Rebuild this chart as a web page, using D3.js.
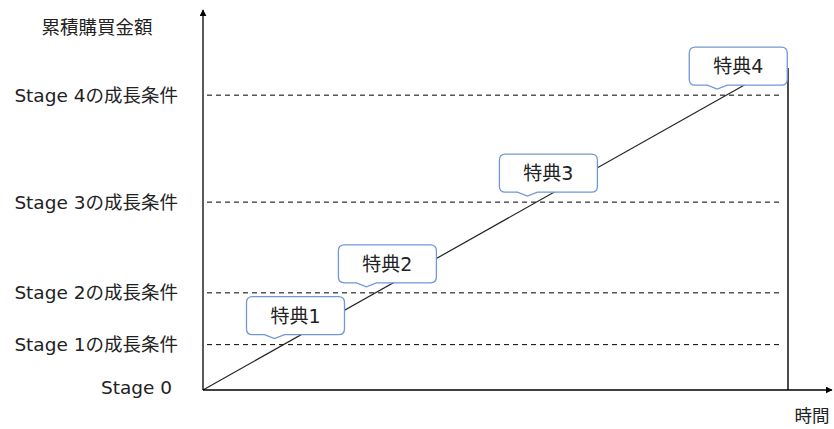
<!DOCTYPE html>
<html><head><meta charset="utf-8">
<script src="https://cdn.jsdelivr.net/npm/d3@7"></script>
<style>
html,body{margin:0;padding:0;background:#fff;}
svg{display:block;font-family:"DejaVu Sans","Noto Sans CJK JP",sans-serif;}
</style></head>
<body>
<svg id="chart" width="834" height="429"></svg>
<script>
// ---- data ----
const stageLabels = ["Stage 0", "Stage 1の成長条件", "Stage 2の成長条件", "Stage 3の成長条件", "Stage 4の成長条件"];
const stageValues = [0, 12, 25.7, 49.7, 78];
const benefitLabels = ["特典1", "特典2", "特典3", "特典4"];
const purchaseTimes = [0, 87.2];
const purchaseValues = [0, 81.5];
const periodEndTime = [93.3];
const periodEndValue = [85.2];
const yTitle = "累積購買金額";
const xTitle = "時間";

// ---- scales ----
const svg = d3.select("#chart");
const x = d3.scaleLinear().domain([0, 100]).range([203, 830]);
const y = d3.scaleLinear().domain([0, 100]).range([390, 12]);
const fs = 18.5;

// arrow marker
const defs = svg.append("defs");
defs.append("marker").attr("id", "arr").attr("viewBox", "0 0 10 10")
  .attr("refX", 9).attr("refY", 5).attr("markerWidth", 7).attr("markerHeight", 7)
  .attr("markerUnits", "userSpaceOnUse").attr("orient", "auto")
  .append("path").attr("d", "M0,0 L10,5 L0,10 Z").attr("fill", "#000");

// dashed stage lines
const stageIdx = d3.range(1, stageValues.length);
svg.append("g").selectAll("line").data(stageIdx).join("line")
  .attr("x1", x(0) + 4).attr("x2", x(92.5))
  .attr("y1", i => y(stageValues[i])).attr("y2", i => y(stageValues[i]))
  .attr("stroke", "#000").attr("stroke-width", 1).attr("stroke-dasharray", "5,4");

// stage labels
svg.append("g").selectAll("text").data(d3.range(stageValues.length)).join("text")
  .attr("x", i => i === 0 ? 172 : 178)
  .attr("y", i => y(stageValues[i]) - (i === 0 ? 3 : 0))
  .attr("text-anchor", "end").attr("dominant-baseline", "central")
  .attr("font-size", fs).attr("fill", "#222")
  .text(i => stageLabels[i]);

// purchase line
const pts = purchaseTimes.map((t, i) => [x(t), y(purchaseValues[i])]);
svg.append("path").attr("d", d3.line()(pts))
  .attr("fill", "none").attr("stroke", "#222").attr("stroke-width", 1.2);

// period end line
svg.append("line").attr("x1", x(periodEndTime[0])).attr("x2", x(periodEndTime[0]))
  .attr("y1", y(0)).attr("y2", y(periodEndValue[0]))
  .attr("stroke", "#111").attr("stroke-width", 1.5);

// axes
svg.append("line").attr("x1", x(0)).attr("x2", x(0)).attr("y1", y(0)).attr("y2", 10)
  .attr("stroke", "#000").attr("stroke-width", 1.3).attr("marker-end", "url(#arr)");
svg.append("line").attr("x1", x(0)).attr("x2", 832).attr("y1", y(0)).attr("y2", y(0))
  .attr("stroke", "#000").attr("stroke-width", 1.3).attr("marker-end", "url(#arr)");

// axis titles
svg.append("text").attr("x", 97).attr("y", 27).attr("text-anchor", "middle")
  .attr("dominant-baseline", "central").attr("font-size", fs).attr("fill", "#222").text(yTitle);
svg.append("text").attr("x", 812).attr("y", 416).attr("text-anchor", "middle")
  .attr("dominant-baseline", "central").attr("font-size", 17.5).attr("fill", "#222").text(xTitle);

// callouts at line crossings
const slope = purchaseValues[1] / purchaseTimes[1];
const bw = 98, bh = 38, r = 6;
const cg = svg.append("g").selectAll("g").data(benefitLabels).join("g")
  .attr("transform", (d, i) => {
    const v = stageValues[i + 1];
    const tx = x(v / slope) - 9, ty = y(v) - 6;
    return `translate(${tx},${ty})`;
  });
cg.append("path").attr("d", () => {
  const L = -28, T = -4 - bh, R = L + bw, B = -4;
  return `M${L + r},${T} H${R - r} Q${R},${T} ${R},${T + r} V${B - r} Q${R},${B} ${R - r},${B}` +
    ` H10 L0,0 L-10,${B} H${L + r} Q${L},${B} ${L},${B - r} V${T + r} Q${L},${T} ${L + r},${T} Z`;
}).attr("fill", "#fff").attr("stroke", "#7097d8").attr("stroke-width", 1.3);
cg.append("text").attr("x", -28 + bw / 2).attr("y", -4 - bh / 2)
  .attr("text-anchor", "middle").attr("dominant-baseline", "central")
  .attr("font-size", 19).attr("fill", "#222").text(d => d);
</script>
</body></html>
